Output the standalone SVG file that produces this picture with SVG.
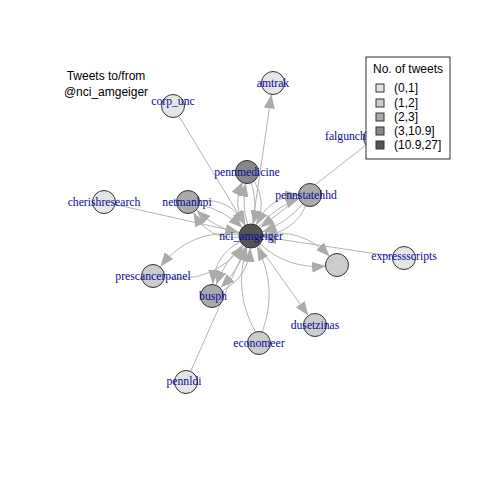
<svg xmlns="http://www.w3.org/2000/svg" width="480" height="480" viewBox="0 0 480 480">
<defs>
<marker id="ah" markerUnits="userSpaceOnUse" markerWidth="14" markerHeight="11" viewBox="0 0 14 11" refX="14" refY="5.5" orient="auto">
<path d="M0,0 L14,5.5 L0,11 z" fill="#ababab"/>
</marker>
</defs>
<style>
.e{fill:none;stroke:#b4b4b4;stroke-width:1}
.a{marker-end:url(#ah)}
.n{stroke:#333;stroke-width:1}
.c0{fill:#e5e5e5}.c1{fill:#cccccc}.c2{fill:#aaaaaa}.c3{fill:#888888}.c4{fill:#555555}
.l{font-family:"Liberation Serif","Times New Roman",serif;font-size:11.7px;fill:#0a0a9a;text-anchor:middle}
.t{font-family:"Liberation Sans",Arial,sans-serif;font-size:12px;fill:#000}
</style>
<rect width="480" height="480" fill="#fff"/>
<g id="connectors">
<path class="e a" d="M252.7,223.1 L271.4,94.4"/>
<path class="e a" d="M179,116.3 L244.8,224.7"/>
<path class="e a" d="M365.9,145.1 L260.5,227.6"/>
<path class="e a" d="M115.2,204.5 L239.3,232.4"/>
<path class="e a" d="M392.6,256.3 L262.9,236.8"/>
<path class="e a" d="M190.6,371.5 L246.2,246"/>
<path class="e a" d="M258,244.8 L308.3,315.6"/>
<path class="e a" d="M239.3,233.4 Q214.75,227.8 196.6,210.3"/>
<path class="e a" d="M199.7,204.6 Q224.25,210.2 242.4,227.7"/>
<path class="e a" d="M239.1,237.1 Q208.1,240.1 193.6,212.6"/>
<path class="e a" d="M199.9,200.9 Q230.9,197.9 245.4,225.4"/>
<path class="e a" d="M247.6,224.5 Q241.5,203.9 245.7,182.8"/>
<path class="e a" d="M251.4,182.5 Q257.5,203.1 253.3,224.2"/>
<path class="e a" d="M244.7,225.8 Q231.5,204.3 242.7,181.7"/>
<path class="e a" d="M254.3,181.2 Q267.5,202.7 256.3,225.3"/>
<path class="e a" d="M258.7,226.8 Q275.3,206.8 299.7,198.1"/>
<path class="e a" d="M303.3,203.2 Q286.7,223.2 262.3,231.9"/>
<path class="e a" d="M255.9,225 Q268.4,197 299,194.8"/>
<path class="e a" d="M306.1,205 Q293.6,233 263,235.2"/>
<path class="e a" d="M242.4,244.4 Q224.8,261.6 216.2,284.8"/>
<path class="e a" d="M246.8,247.2 Q238.2,270.4 220.6,287.6"/>
<path class="e a" d="M240.4,241.6 Q214.7,255.1 212.8,284"/>
<path class="e a" d="M222.6,290.4 Q248.3,276.9 250.2,248"/>
<path class="e a" d="M239.1,234.5 Q190.7,228.2 160.4,266.6"/>
<path class="e a" d="M164.9,277.5 Q213.3,283.8 243.6,245.4"/>
<path class="e a" d="M262.8,234.1 Q302.1,227.7 329.7,256.4"/>
<path class="e a" d="M259.9,244 Q288.2,269.5 326,266.1"/>
<path class="e a" d="M262.3,331.8 Q278.4,287.3 256.8,246.3"/>
<path class="e a" d="M255.9,332.7 Q232.6,291.7 246.9,247.2"/>
</g>
<g id="nci_amgeiger"><circle class="n c4" cx="251" cy="236" r="12"/><text class="l" x="251" y="240">nci_amgeiger</text></g>
<g id="amtrak"><circle class="n c0" cx="273" cy="83" r="11.5"/><text class="l" x="273" y="87">amtrak</text></g>
<g id="corp_unc"><circle class="n c0" cx="173" cy="106" r="11.5"/><text class="l" x="173" y="105">corp_unc</text></g>
<g id="falgunch"><circle class="n c0" cx="375" cy="138" r="11.5"/><text class="l" x="325" y="140" style="text-anchor:start">falgunch</text></g>
<g id="cherishresearch"><circle class="n c0" cx="104" cy="202" r="11.5"/><text class="l" x="104" y="206">cherishresearch</text></g>
<g id="netmanhpi"><circle class="n c2" cx="188" cy="202" r="11.5"/><text class="l" x="187" y="206">netmanhpi</text></g>
<g id="pennmedicine"><circle class="n c3" cx="247" cy="172" r="11.5"/><text class="l" x="247" y="176">pennmedicine</text></g>
<g id="pennstatehhd"><circle class="n c2" cx="310" cy="195" r="11.5"/><text class="l" x="306" y="199">pennstatehhd</text></g>
<g id="expressscripts"><circle class="n c0" cx="404" cy="258" r="11.5"/><text class="l" x="404" y="260">expressscripts</text></g>
<g id="node_unlabelled"><circle class="n c1" cx="337" cy="265" r="11.5"/></g>
<g id="prescancerpanel"><circle class="n c1" cx="153" cy="276" r="11.5"/><text class="l" x="153" y="280">prescancerpanel</text></g>
<g id="busph"><circle class="n c2" cx="212" cy="296" r="11.5"/><text class="l" x="213" y="300">busph</text></g>
<g id="dusetzinas"><circle class="n c1" cx="315" cy="325" r="11.5"/><text class="l" x="315" y="329">dusetzinas</text></g>
<g id="economeer"><circle class="n c1" cx="259" cy="343" r="11.5"/><text class="l" x="259" y="347">economeer</text></g>
<g id="pennldi"><circle class="n c0" cx="186" cy="382" r="11.5"/><text class="l" x="184" y="385">pennldi</text></g>
<g id="title">
<text class="t" x="106" y="80" text-anchor="middle">Tweets to/from</text>
<text class="t" x="106" y="96" text-anchor="middle">@nci_amgeiger</text>
</g>
<g id="legend">
<rect x="366" y="57" width="84" height="102" fill="#fff" stroke="#333" stroke-width="1"/>
<text class="t" x="408" y="73" text-anchor="middle">No. of tweets</text>
<rect class="n c0" x="376" y="84" width="8" height="8"/><text class="t" x="394" y="92">(0,1]</text>
<rect class="n c1" x="376" y="99" width="8" height="8"/><text class="t" x="394" y="107">(1,2]</text>
<rect class="n c2" x="376" y="113" width="8" height="8"/><text class="t" x="394" y="121">(2,3]</text>
<rect class="n c3" x="376" y="127" width="8" height="8"/><text class="t" x="394" y="135">(3,10.9]</text>
<rect class="n c4" x="376" y="141" width="8" height="8"/><text class="t" x="394" y="149">(10.9,27]</text>
</g>
</svg>
